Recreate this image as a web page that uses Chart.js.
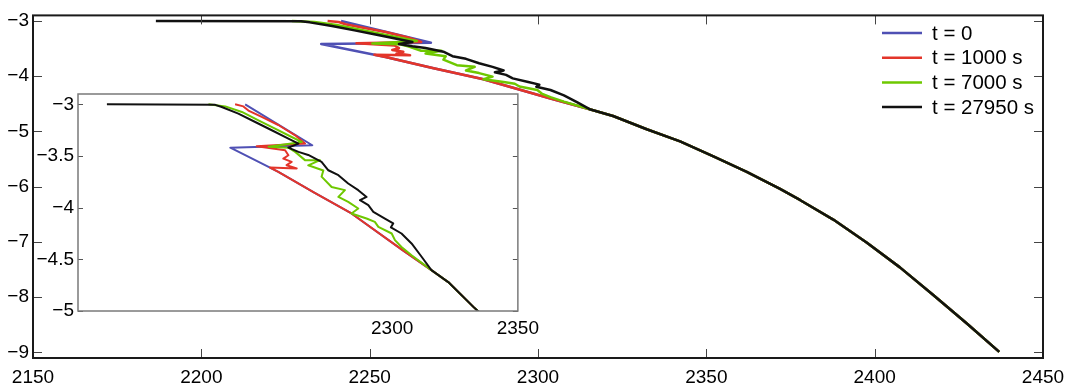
<!DOCTYPE html>
<html>
<head>
<meta charset="utf-8">
<script src="https://cdn.jsdelivr.net/npm/chart.js@4.4.0/dist/chart.umd.min.js"></script>
<style>
  html, body { margin: 0; padding: 0; background: #fff; }
  #wrap { position: relative; width: 1073px; height: 386px; }
  #mainChart, #insetChart { position: absolute; left: 0; top: 0; }
</style>
</head>
<body>
<div id="wrap">
  <canvas id="mainChart" width="1073" height="386"></canvas>
  <canvas id="insetChart" width="545" height="340"></canvas>
</div>
<script>
// series labels and colours
const labels = ['t = 0', 't = 1000 s', 't = 7000 s', 't = 27950 s'];
const colors = ['#4f50b4', '#e3352a', '#6ec800', '#111111'];

// tick values
const mainXTicks = [2150, 2200, 2250, 2300, 2350, 2400, 2450];
const mainYTicks = [-9, -8, -7, -6, -5, -4, -3];
const insetXTicks = [2300, 2350];
const insetYTicks = [-5, -4.5, -4, -3.5, -3];

// lower branch shared by t=0 and t=1000 s
const lowerX = [2254.7, 2269.0, 2283.8, 2303.7, 2315.6];
const lowerY = [-3.654, -3.855, -4.056, -4.404, -4.604];

// tail where all curves coincide
const tailX = [2322.3, 2332.3, 2342.2, 2352.1, 2362.0, 2371.9, 2377.8, 2387.7, 2397.6, 2407.5, 2417.4, 2427.3, 2437.0];
const tailY = [-4.72, -4.96, -5.18, -5.45, -5.73, -6.04, -6.24, -6.595, -7.01, -7.46, -7.96, -8.47, -8.99];

// t = 0
const t0X = [2241.5, 2268.2, 2235.6, 2251.4];
const t0Y = [-3.0, -3.396, -3.419, -3.612];

// t = 1000 s
const t1000X = [2237.5, 2240.8, 2242.8, 2248.1, 2254.7, 2261.4, 2265.3, 2246.1, 2257.4, 2258.7, 2256.7, 2260.0, 2258.0, 2262.0, 2251.4];
const t1000Y = [-3.0, -3.02, -3.06, -3.122, -3.2, -3.3, -3.38, -3.406, -3.444, -3.493, -3.525, -3.557, -3.589, -3.621, -3.612];

// t = 7000 s
const t7000X = [2226.9, 2233.6, 2240.2, 2246.8, 2253.4, 2260.0, 2264.0, 2250.8, 2258.7, 2261.4, 2265.3, 2271.3, 2266.6, 2272.6, 2271.9, 2275.9, 2281.2, 2278.6, 2282.5, 2286.5, 2283.8, 2289.8, 2293.1, 2294.5, 2299.8, 2301.1, 2303.7, 2307.7, 2315.6];
const t7000Y = [-3.0, -3.02, -3.074, -3.155, -3.235, -3.316, -3.364, -3.41, -3.42, -3.46, -3.54, -3.54, -3.59, -3.64, -3.70, -3.80, -3.83, -3.896, -3.944, -4.008, -4.056, -4.105, -4.137, -4.186, -4.25, -4.314, -4.38, -4.46, -4.604];

// t = 27950 s
const t27950X = [2186.5, 2229.6, 2232.2, 2238.8, 2245.5, 2252.1, 2258.7, 2262.7, 2258.7, 2262.7, 2266.6, 2271.9, 2274.6, 2278.6, 2282.5, 2286.5, 2289.8, 2287.2, 2290.5, 2292.5, 2297.1, 2300.4, 2299.5, 2303.7, 2307.7, 2311.7, 2315.6];
const t27950Y = [-3.0, -3.005, -3.026, -3.09, -3.171, -3.251, -3.332, -3.38, -3.419, -3.46, -3.49, -3.557, -3.638, -3.686, -3.766, -3.831, -3.896, -3.928, -3.976, -4.04, -4.105, -4.153, -4.19, -4.25, -4.346, -4.475, -4.604];

Chart.defaults.font.family = "'Liberation Sans', Arial, Helvetica, sans-serif";
Chart.defaults.color = '#000';

function pts(xs, ys) {
    return xs.map((x, i) => ({ x: x, y: ys[i] }));
}

function makeSets(width) {
    const curves = [
        pts(t0X.concat(lowerX, tailX), t0Y.concat(lowerY, tailY)),
        pts(t1000X.concat(lowerX, tailX), t1000Y.concat(lowerY, tailY)),
        pts(t7000X.concat(tailX), t7000Y.concat(tailY)),
        pts(t27950X.concat(tailX), t27950Y.concat(tailY))
    ];
    return curves.map((data, i) => ({
        label: labels[i],
        data: data,
        showLine: true,
        borderColor: colors[i],
        backgroundColor: colors[i],
        borderWidth: width,
        borderJoinStyle: 'round',
        pointRadius: 0,
        tension: 0,
        fill: false,
        order: 4 - i   // black drawn last, blue first
    }));
}

const minus = v => String(v).replace('-', '\u2212');

// box round the plot area plus inward tick marks
const framePlugin = {
    id: 'frame',
    beforeDatasetsDraw(chart, args, o) {
        if (!o.fill) return;
        const a = chart.chartArea;
        chart.ctx.save();
        chart.ctx.fillStyle = '#fff';
        chart.ctx.fillRect(a.left, a.top, a.width, a.height);
        chart.ctx.restore();
    },
    afterDatasetsDraw(chart, args, o) {
        const ctx = chart.ctx, a = chart.chartArea, sx = chart.scales.x, sy = chart.scales.y;
        ctx.save();
        ctx.strokeStyle = o.tickColor;
        ctx.lineWidth = 1;
        ctx.beginPath();
        if (o.xTicks) {
            sx.ticks.forEach(t => {
                const p = Math.round(sx.getPixelForValue(t.value)) + 0.5;
                ctx.moveTo(p, a.bottom); ctx.lineTo(p, a.bottom - o.len);
                ctx.moveTo(p, a.top); ctx.lineTo(p, a.top + o.len);
            });
        }
        sy.ticks.forEach(t => {
            const p = Math.round(sy.getPixelForValue(t.value)) + 0.5;
            ctx.moveTo(a.left, p); ctx.lineTo(a.left + o.len, p);
            ctx.moveTo(a.right, p); ctx.lineTo(a.right - o.len, p);
        });
        ctx.stroke();
        ctx.strokeStyle = o.color;
        ctx.lineWidth = o.width;
        ctx.strokeRect(a.left, a.top, a.width, a.height);
        ctx.restore();
    }
};

// legend in the top right corner
const keyPlugin = {
    id: 'key',
    afterDraw(chart, args, o) {
        if (!o.show) return;
        const ctx = chart.ctx;
        ctx.save();
        ctx.font = o.font;
        ctx.textBaseline = 'middle';
        chart.data.datasets.forEach((ds, i) => {
            const y = o.y + i * o.step;
            ctx.strokeStyle = ds.borderColor;
            ctx.lineWidth = 2.5;
            ctx.beginPath();
            ctx.moveTo(o.x, y);
            ctx.lineTo(o.x + o.len, y);
            ctx.stroke();
            ctx.fillStyle = '#000';
            ctx.fillText(ds.label, o.x + o.len + o.gap, y + 1);
        });
        ctx.restore();
    }
};

// main chart
new Chart(document.getElementById('mainChart'), {
    type: 'scatter',
    data: { datasets: makeSets(2.5) },
    options: {
        responsive: false,
        animation: false,
        devicePixelRatio: 1,
        layout: { padding: { top: 12, right: 30, left: 0, bottom: 0 } },
        plugins: {
            legend: { display: false },
            tooltip: { enabled: false },
            frame: { color: '#1a1a1a', width: 2, tickColor: '#444', len: 9, xTicks: true, fill: false },
            key: { show: true, x: 882, y: 33, step: 24.7, len: 40, gap: 10, font: "20.5px 'Liberation Sans', Arial, sans-serif" }
        },
        scales: {
            x: {
                type: 'linear', min: 2150, max: 2450,
                grid: { display: false, drawTicks: false }, border: { display: false },
                afterBuildTicks: s => { s.ticks = mainXTicks.map(v => ({ value: v })); },
                afterFit: s => { s.height = 28; },
                ticks: { padding: 8, font: { size: 19 }, maxRotation: 0, autoSkip: false, callback: v => minus(v) }
            },
            y: {
                type: 'linear', min: -9.1, max: -2.9,
                grid: { display: false, drawTicks: false }, border: { display: false },
                afterBuildTicks: s => { s.ticks = mainYTicks.map(v => ({ value: v })); },
                afterFit: s => { s.width = 33; },
                ticks: { padding: 4, font: { size: 19 }, autoSkip: false, callback: v => minus(v) }
            }
        }
    },
    plugins: [framePlugin, keyPlugin]
});

// inset: zoom on the upper part
new Chart(document.getElementById('insetChart'), {
    type: 'scatter',
    data: { datasets: makeSets(2) },
    options: {
        responsive: false,
        animation: false,
        devicePixelRatio: 1,
        layout: { padding: { top: 94, right: 26, left: 0, bottom: 0 } },
        plugins: {
            legend: { display: false },
            tooltip: { enabled: false },
            frame: { color: '#7a7a7a', width: 1.5, tickColor: '#555', len: 5, xTicks: false, fill: true },
            key: { show: false }
        },
        scales: {
            x: {
                type: 'linear', min: 2175, max: 2350,
                grid: { display: false, drawTicks: false }, border: { display: false },
                afterBuildTicks: s => { s.ticks = insetXTicks.map(v => ({ value: v })); },
                afterFit: s => { s.height = 29; },
                ticks: { padding: 6, font: { size: 19 }, maxRotation: 0, autoSkip: false, callback: v => minus(v) }
            },
            y: {
                type: 'linear', min: -5, max: -2.9,
                grid: { display: false, drawTicks: false }, border: { display: false },
                afterBuildTicks: s => { s.ticks = insetYTicks.map(v => ({ value: v })); },
                afterFit: s => { s.width = 78; },
                ticks: { padding: 4, font: { size: 19 }, autoSkip: false, callback: v => minus(v) }
            }
        }
    },
    plugins: [framePlugin, keyPlugin]
});
</script>
</body>
</html>
